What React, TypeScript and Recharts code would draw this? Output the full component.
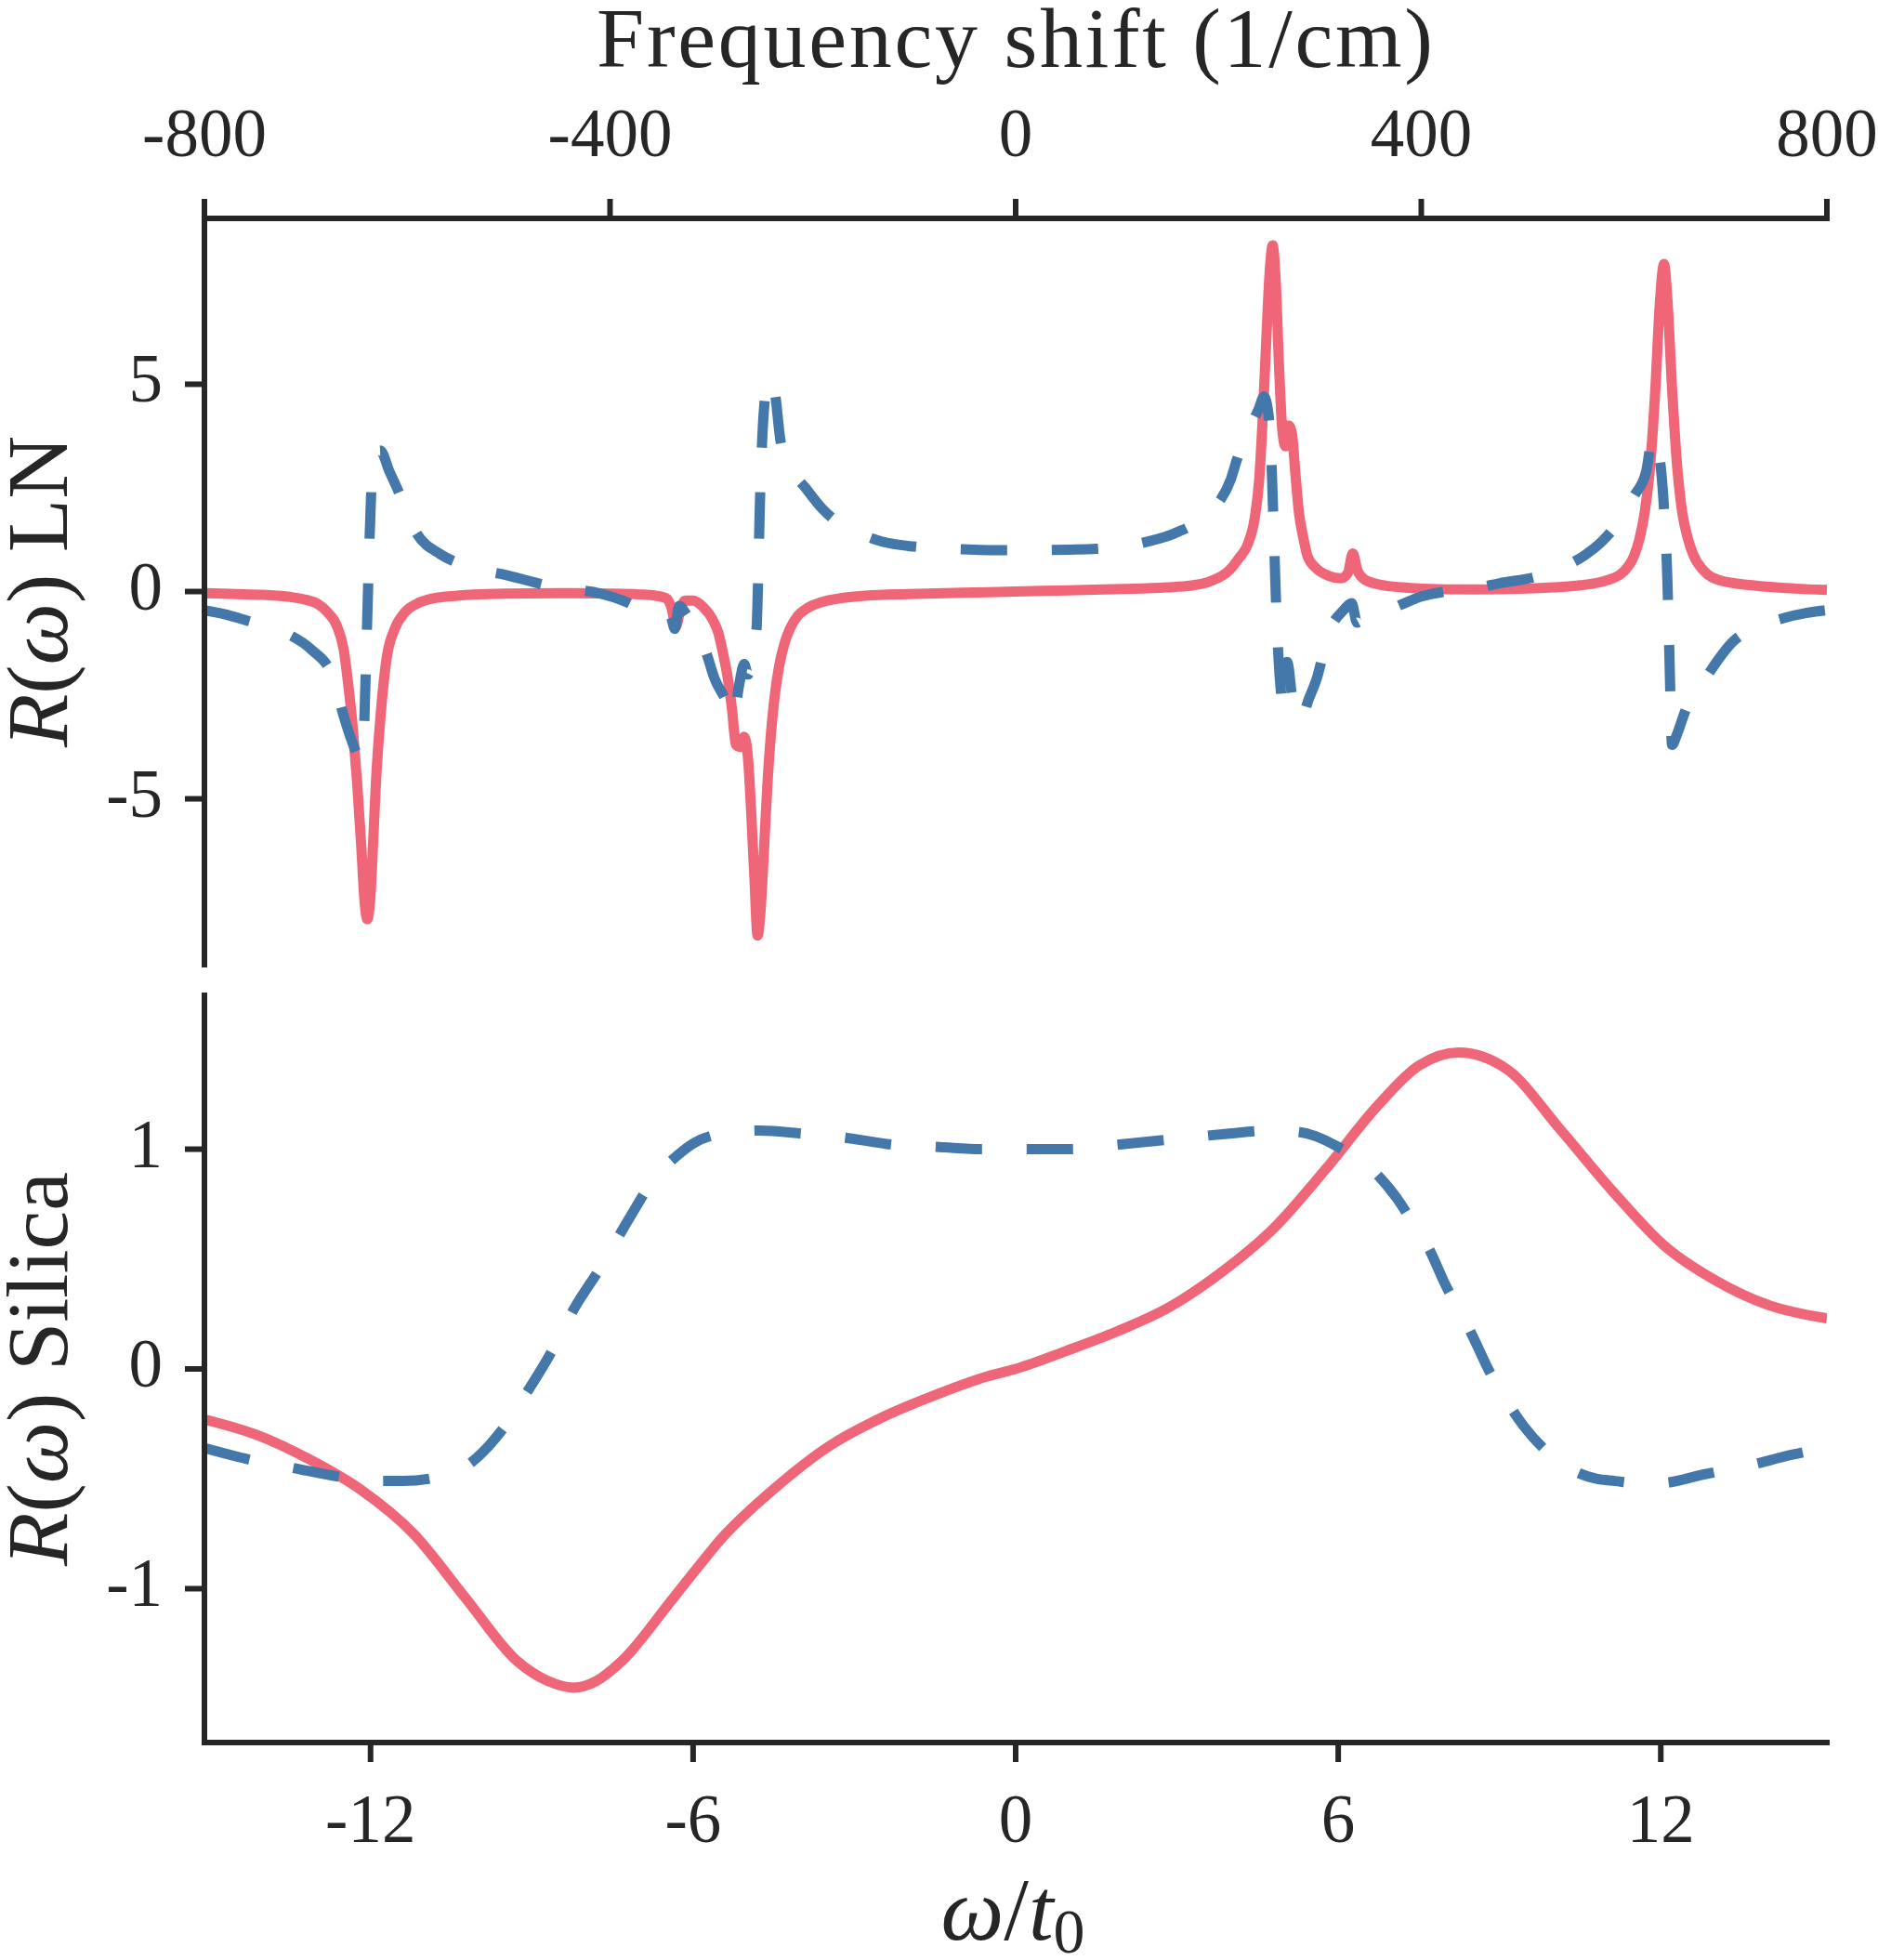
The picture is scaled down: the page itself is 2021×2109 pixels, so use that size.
import React from "react";
import { Line, LineChart, XAxis, YAxis } from "recharts";

const INK = "#262626";
const RED = "#EE6677";
const BLUE = "#4477AA";
const FONT = '"Liberation Serif", "Times New Roman", serif';

const freqTicks = [-800, -400, 0, 400, 800];
const omegaTicks = [-12, -6, 0, 6, 12];
const lnTicks = [-5, 0, 5];
const silicaTicks = [-1, 0, 1];

// [omega / t0, R]
const lnImag: [number, number][] = [
  [-15.09, -0.04], [-14.5, -0.06], [-14.0, -0.08], [-13.5, -0.13], [-13.2, -0.2],
  [-12.98, -0.3], [-12.8, -0.5], [-12.62, -0.85], [-12.5, -1.4], [-12.41, -2.3],
  [-12.33, -3.3], [-12.25, -4.6], [-12.17, -6.2], [-12.11, -7.5], [-12.06, -7.9],
  [-12.0, -7.3], [-11.95, -6.0], [-11.9, -4.6], [-11.82, -3.1], [-11.7, -1.6],
  [-11.55, -0.9], [-11.36, -0.5], [-11.1, -0.27], [-10.86, -0.17], [-10.4, -0.1],
  [-9.5, -0.05], [-8.5, -0.04], [-7.5, -0.05], [-7.0, -0.07], [-6.7, -0.1],
  [-6.5, -0.16], [-6.4, -0.4], [-6.32, -0.85], [-6.24, -0.45], [-6.15, -0.22],
  [-6.0, -0.22], [-5.81, -0.38], [-5.65, -0.65], [-5.53, -1.0], [-5.45, -1.45],
  [-5.36, -2.05], [-5.28, -2.8], [-5.2, -3.7], [-5.12, -3.75], [-5.05, -3.5],
  [-4.98, -4.0], [-4.92, -5.3], [-4.86, -6.9], [-4.8, -8.3], [-4.74, -7.6],
  [-4.68, -6.2], [-4.62, -4.7], [-4.55, -3.4], [-4.48, -2.5], [-4.4, -1.8],
  [-4.3, -1.25], [-4.2, -0.9], [-4.05, -0.58], [-3.9, -0.42], [-3.6, -0.25],
  [-3.3, -0.17], [-2.8, -0.1], [-2.0, -0.06], [-1.0, -0.03], [0, 0],
  [1.0, 0.03], [2.0, 0.06], [2.8, 0.1], [3.3, 0.15], [3.6, 0.24],
  [3.98, 0.52], [4.15, 0.8], [4.32, 1.15], [4.45, 1.8], [4.53, 2.7],
  [4.6, 4.3], [4.66, 6.0], [4.72, 7.6], [4.78, 8.35], [4.84, 7.4],
  [4.9, 5.4], [4.96, 3.9], [5.02, 3.5], [5.08, 4.0], [5.14, 3.8],
  [5.2, 2.9], [5.27, 1.9], [5.35, 1.3], [5.43, 0.85], [5.6, 0.55],
  [5.82, 0.38], [6.05, 0.32], [6.18, 0.45], [6.27, 0.92], [6.36, 0.5],
  [6.5, 0.28], [6.8, 0.16], [7.2, 0.1], [7.55, 0.07], [8.5, 0.05],
  [9.5, 0.07], [10.0, 0.1], [10.5, 0.15], [11.0, 0.27], [11.3, 0.47],
  [11.5, 0.85], [11.6, 1.25], [11.7, 1.9], [11.8, 3.0], [11.9, 4.9],
  [11.98, 6.9], [12.06, 7.9], [12.13, 6.9], [12.21, 4.9], [12.3, 3.1],
  [12.4, 1.9], [12.5, 1.3], [12.6, 0.9], [12.8, 0.5], [13.1, 0.27],
  [13.7, 0.15], [14.5, 0.07], [15.09, 0.04],
];

const lnReal: [number, number][] = [
  [-15.09, -0.45], [-14.7, -0.55], [-14.3, -0.7], [-13.9, -0.85], [-13.5, -1.05],
  [-13.1, -1.4], [-12.7, -2.05], [-12.5, -3.0], [-12.35, -3.6], [-12.2, -4.0],
  [-12.13, -3.5], [-12.08, -1.5], [-12.03, 0.8], [-11.98, 2.6], [-11.92, 3.3],
  [-11.82, 3.4], [-11.65, 2.9], [-11.46, 2.35], [-11.3, 1.8], [-11.14, 1.4],
  [-10.7, 0.9], [-10.22, 0.62], [-9.42, 0.38], [-8.56, 0.1], [-7.72, -0.05],
  [-7.3, -0.22], [-6.91, -0.45], [-6.6, -0.55], [-6.42, -0.6], [-6.34, -0.9],
  [-6.26, -0.35], [-6.1, -0.6], [-5.93, -0.95], [-5.75, -1.5], [-5.6, -2.1],
  [-5.4, -2.6], [-5.25, -3.05], [-5.15, -2.3], [-5.05, -1.75], [-4.98, -2.0],
  [-4.9, -1.6], [-4.82, -0.9], [-4.79, 0.3], [-4.76, 2.0], [-4.72, 3.5],
  [-4.66, 4.7], [-4.58, 5.15], [-4.48, 4.8], [-4.37, 3.6], [-4.2, 3.0],
  [-3.91, 2.5], [-3.6, 2.0], [-3.34, 1.7], [-2.9, 1.4], [-2.47, 1.2],
  [-2.0, 1.1], [-1.5, 1.05], [-1.0, 1.02], [-0.5, 1.0], [0, 1.0],
  [0.5, 1.0], [1.0, 1.01], [1.5, 1.03], [2.14, 1.12], [2.5, 1.22],
  [2.95, 1.4], [3.4, 1.7], [3.78, 2.15], [4.0, 2.7], [4.12, 3.2],
  [4.3, 3.8], [4.52, 4.4], [4.62, 4.7], [4.7, 4.3], [4.75, 3.4],
  [4.8, 1.5], [4.85, -0.5], [4.92, -2.2], [4.98, -2.8], [5.05, -1.7],
  [5.15, -2.6], [5.3, -3.1], [5.45, -2.6], [5.6, -2.1], [5.82, -1.0],
  [6.1, -0.45], [6.25, -0.28], [6.35, -0.75], [6.5, -0.6], [6.83, -0.5],
  [7.2, -0.3], [7.55, -0.12], [8.0, 0.0], [8.55, 0.08], [9.0, 0.2],
  [9.75, 0.38], [10.2, 0.6], [10.58, 0.87], [10.9, 1.2], [11.25, 1.75],
  [11.5, 2.3], [11.73, 2.9], [11.85, 3.75], [11.98, 3.2], [12.06, 2.0],
  [12.12, 0.4], [12.16, -1.5], [12.21, -3.7], [12.3, -3.45], [12.45, -2.9],
  [12.83, -2.1], [13.35, -1.2], [13.8, -0.85], [14.26, -0.65], [14.7, -0.52],
  [15.09, -0.45],
];

const silicaImag: [number, number][] = [
  [-15.09, -0.23], [-14.12, -0.3], [-13.15, -0.41], [-12.18, -0.55], [-11.2, -0.75],
  [-10.24, -1.04], [-9.27, -1.33], [-8.7, -1.42], [-8.23, -1.45], [-7.8, -1.42],
  [-7.33, -1.33], [-6.36, -1.04], [-5.39, -0.75], [-4.42, -0.53], [-3.46, -0.35],
  [-2.48, -0.22], [-1.51, -0.12], [-0.54, -0.035], [0, 0], [0.92, 0.08],
  [1.88, 0.17], [2.85, 0.28], [3.83, 0.44], [4.8, 0.64], [5.77, 0.91],
  [6.74, 1.2], [7.5, 1.38], [8.24, 1.44], [8.7, 1.42], [9.16, 1.36],
  [10.13, 1.09], [11.1, 0.81], [12.07, 0.56], [13.04, 0.4], [14.01, 0.29],
  [15.09, 0.23],
];

const silicaReal: [number, number][] = [
  [-15.09, -0.36], [-14.3, -0.41], [-13.45, -0.45], [-12.6, -0.49], [-12.0, -0.51],
  [-11.4, -0.51], [-10.57, -0.48], [-10.1, -0.42], [-9.8, -0.35], [-9.5, -0.26],
  [-9.18, -0.14], [-8.7, 0.05], [-8.2, 0.28], [-7.7, 0.47], [-7.2, 0.68],
  [-6.74, 0.86], [-6.3, 0.97], [-5.97, 1.03], [-5.5, 1.07], [-5.15, 1.08],
  [-4.76, 1.085], [-3.94, 1.07], [-3.11, 1.05], [-2.28, 1.02], [-1.42, 1.01],
  [-0.64, 1.0], [0.19, 1.0], [1.02, 1.0], [1.88, 1.02], [2.28, 1.03],
  [3.1, 1.05], [3.93, 1.07], [4.75, 1.085], [5.2, 1.08], [5.57, 1.06],
  [6.0, 1.01], [6.34, 0.96], [6.7, 0.89], [7.08, 0.78], [7.4, 0.66],
  [7.66, 0.56], [8.0, 0.38], [8.48, 0.16], [8.81, -0.01], [9.02, -0.1],
  [9.45, -0.26], [9.9, -0.38], [10.28, -0.45], [10.8, -0.5], [11.15, -0.51],
  [11.6, -0.52], [11.98, -0.52], [12.8, -0.48], [13.63, -0.44], [14.45, -0.39],
  [15.09, -0.36],
];

const toRows = (points: [number, number][]) => points.map(([w, v]) => ({ w, v }));
// the frequency axis needs some rows of its own to get a scale
const freqRows = freqTicks.map((f) => ({ f }));

const OMEGA_DOMAIN: [number, number] = [-15.09, 15.09];
const LINE_W = 11;
const axisStyle = { stroke: INK, strokeWidth: 6, strokeLinecap: "square" as const };
const tickStyle = { stroke: INK, strokeWidth: 6 };

function XTick({ x, y, payload }: any) {
  return (
    <text x={x} y={y} textAnchor="middle" fill={INK} fontFamily={FONT} fontSize={73}>
      {payload.value}
    </text>
  );
}

function YTick({ x, y, payload }: any) {
  return (
    <text x={x} y={y} dy={19} textAnchor="end" fill={INK} fontFamily={FONT} fontSize={73}>
      {payload.value}
    </text>
  );
}

function yLabel(name: string, cy: number) {
  return () => (
    <text
      x={72}
      y={cy}
      transform={`rotate(-90, 72, ${cy})`}
      textAnchor="middle"
      fill={INK}
      fontFamily={FONT}
      fontSize={94}
    >
      <tspan fontStyle="italic">R</tspan>(<tspan fontStyle="italic">ω</tspan>) {name}
    </text>
  );
}

const titleLabel = () => (
  <text
    x={1092}
    y={72}
    textAnchor="middle"
    fill={INK}
    fontFamily={FONT}
    fontSize={92}
    textLength={900}
    lengthAdjust="spacing"
  >
    Frequency shift (1/cm)
  </text>
);

const omegaLabel = () => (
  <text x={1090} y={1037} textAnchor="middle" fill={INK} fontFamily={FONT} fontSize={96}>
    <tspan fontStyle="italic">ω</tspan>/<tspan fontStyle="italic">t</tspan>
    <tspan fontSize={68} dy={14}>0</tspan>
  </text>
);

export default function App() {
  return (
    <div style={{ position: "absolute", left: 0, top: 0, width: 2021, height: 2109, background: "#fff" }}>
      <div style={{ position: "absolute", left: 0, top: 0 }}>
        <LineChart width={2021} height={1060} margin={{ top: 0, right: 55, bottom: 22, left: 0 }}>
          <XAxis xAxisId="w" type="number" dataKey="w" domain={OMEGA_DOMAIN} hide allowDataOverflow />
          <XAxis
            xAxisId="f"
            orientation="top"
            type="number"
            dataKey="f"
            domain={[-800, 800]}
            ticks={freqTicks}
            interval={0}
            height={235}
            axisLine={axisStyle}
            tickLine={tickStyle}
            tickSize={21}
            tickMargin={46}
            tick={<XTick />}
            label={{ content: titleLabel }}
          />
          <YAxis
            type="number"
            domain={[-9, 9]}
            ticks={lnTicks}
            interval={0}
            width={220}
            allowDataOverflow
            axisLine={axisStyle}
            tickLine={tickStyle}
            tickSize={21}
            tickMargin={24}
            tick={<YTick />}
            label={{ content: yLabel("LN", 636.5) }}
          />
          <Line
            xAxisId="f"
            data={freqRows}
            dataKey="none"
            stroke="none"
            dot={false}
            activeDot={false}
            isAnimationActive={false}
          />
          <Line
            xAxisId="w"
            data={toRows(lnImag)}
            dataKey="v"
            type="monotone"
            stroke={RED}
            strokeWidth={LINE_W}
            dot={false}
            activeDot={false}
            isAnimationActive={false}
          />
          <Line
            xAxisId="w"
            data={toRows(lnReal)}
            dataKey="v"
            type="monotone"
            stroke={BLUE}
            strokeWidth={LINE_W}
            strokeDasharray="50 48"
            dot={false}
            activeDot={false}
            isAnimationActive={false}
          />
        </LineChart>
      </div>
      <div style={{ position: "absolute", left: 0, top: 1050 }}>
        <LineChart width={2021} height={1059} margin={{ top: 21, right: 55, bottom: 0, left: 0 }}>
          <XAxis
            xAxisId="w"
            type="number"
            dataKey="w"
            domain={OMEGA_DOMAIN}
            ticks={omegaTicks}
            interval={0}
            height={234}
            allowDataOverflow
            axisLine={axisStyle}
            tickLine={tickStyle}
            tickSize={21}
            tickMargin={86}
            tick={<XTick />}
            label={{ content: omegaLabel }}
          />
          <YAxis
            type="number"
            domain={[-1.7, 1.7]}
            ticks={silicaTicks}
            interval={0}
            width={220}
            allowDataOverflow
            axisLine={axisStyle}
            tickLine={tickStyle}
            tickSize={21}
            tickMargin={24}
            tick={<YTick />}
            label={{ content: yLabel("Silica", 423) }}
          />
          <Line
            xAxisId="w"
            data={toRows(silicaImag)}
            dataKey="v"
            type="monotone"
            stroke={RED}
            strokeWidth={LINE_W}
            dot={false}
            activeDot={false}
            isAnimationActive={false}
          />
          <Line
            xAxisId="w"
            data={toRows(silicaReal)}
            dataKey="v"
            type="monotone"
            stroke={BLUE}
            strokeWidth={LINE_W}
            strokeDasharray="50 48"
            dot={false}
            activeDot={false}
            isAnimationActive={false}
          />
        </LineChart>
      </div>
    </div>
  );
}
